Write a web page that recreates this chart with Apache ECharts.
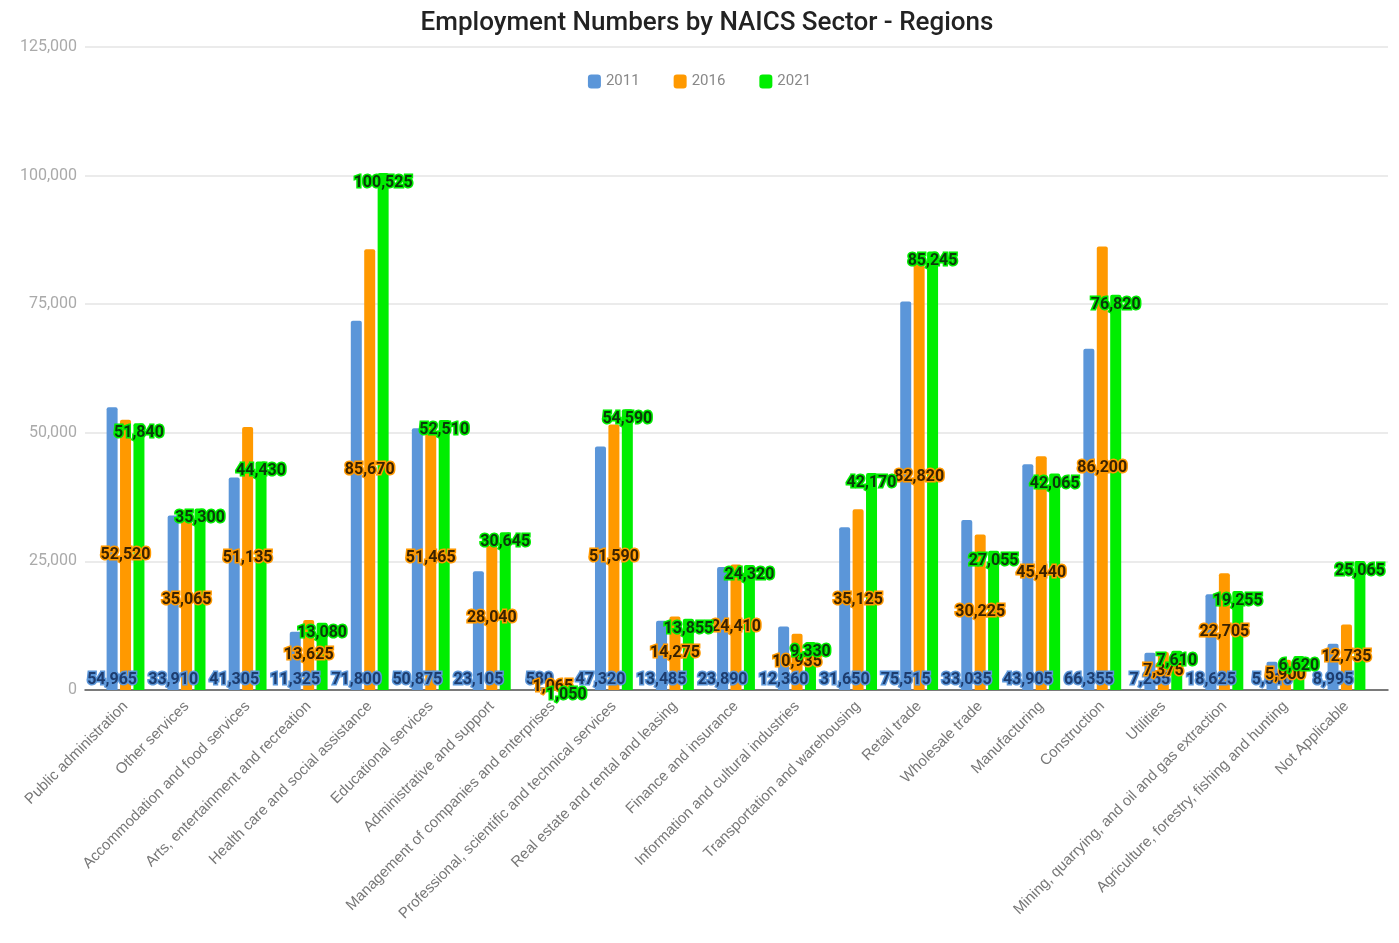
<!DOCTYPE html>
<html>
<head>
<meta charset="utf-8">
<script src="https://cdn.jsdelivr.net/npm/echarts@6/dist/echarts.min.js"></script>
<style>html,body{margin:0;padding:0;background:#fff}#c{width:1399px;height:943px}</style>
</head>
<body>
<div id="c"></div>
<script>
const categories = [
  "Public administration", "Other services", "Accommodation and food services",
  "Arts, entertainment and recreation", "Health care and social assistance",
  "Educational services", "Administrative and support",
  "Management of companies and enterprises", "Professional, scientific and technical services",
  "Real estate and rental and leasing", "Finance and insurance",
  "Information and cultural industries", "Transportation and warehousing",
  "Retail trade", "Wholesale trade", "Manufacturing", "Construction", "Utilities",
  "Mining, quarrying, and oil and gas extraction",
  "Agriculture, forestry, fishing and hunting", "Not Applicable"
];
const seriesNames = ["2011", "2016", "2021"];
const values2011 = [54965, 33910, 41305, 11325, 71800, 50875, 23105, 580, 47320, 13485, 23890, 12360, 31650, 75515, 33035, 43905, 66355, 7255, 18625, 5510, 8995];
const values2016 = [52520, 35065, 51135, 13625, 85670, 51465, 28040, 1065, 51590, 14275, 24410, 10935, 35125, 82820, 30225, 45440, 86200, 7375, 22705, 5900, 12735];
const values2021 = [51840, 35300, 44430, 13080, 100525, 52510, 30645, 1050, 54590, 13855, 24320, 9330, 42170, 85245, 27055, 42065, 76820, 7610, 19255, 6620, 25065];
const yTicks = [0, 25000, 50000, 75000, 100000, 125000];

const colors = ["#5b96d9", "#ff9900", "#00ee00"];
const labelText = ["#1d3c6e", "#3a2200", "#0a3a0a"];
const labelPos = ["insideBottom", "inside", "insideTop"];
const fmt = v => Number(v).toLocaleString("en-US");

const chart = echarts.init(document.getElementById("c"), null, {renderer: "canvas"});
const data = [values2011, values2016, values2021];

const option = {
  animation: false,
  backgroundColor: "#fff",
  color: colors,
  title: {
    text: "Employment Numbers by NAICS Sector - Regions",
    left: 702, textAlign: "center", top: 5,
    textStyle: {fontFamily: "Roboto", fontSize: 26, fontWeight: 500, color: "#222"}
  },
  legend: {
    data: seriesNames, left: "center", top: 69,
    icon: "roundRect", itemWidth: 13, itemHeight: 14, itemGap: 34,
    textStyle: {fontFamily: "Roboto", fontSize: 15, color: "#888"}
  },
  grid: [
    {left: 85, right: 11, top: 47, bottom: 253},
    {left: 95, right: 22, top: 47, bottom: 253}
  ],
  xAxis: [
    {gridIndex: 0, type: "value", min: 0, max: 1, show: true,
     axisLine: {show: true, onZero: false, lineStyle: {color: "#555", width: 1.5}},
     axisTick: {show: false}, axisLabel: {show: false}, splitLine: {show: false}},
    {gridIndex: 1, type: "category", data: categories,
     axisLine: {show: false}, axisTick: {show: false},
     axisLabel: {rotate: 45, interval: 0, margin: 14, fontFamily: "Liberation Sans", fontSize: 15, color: "#777"}}
  ],
  yAxis: [
    {gridIndex: 0, type: "value", min: yTicks[0], max: yTicks[yTicks.length - 1], interval: yTicks[1] - yTicks[0],
     axisLine: {show: false}, axisTick: {show: false},
     axisLabel: {formatter: v => fmt(v), fontFamily: "Roboto", fontSize: 16, color: "#aaa", margin: 8},
     splitLine: {lineStyle: {color: "#e4e4e4", width: 1.5}}},
    {gridIndex: 1, type: "value", min: yTicks[0], max: yTicks[yTicks.length - 1], show: false,
     splitLine: {show: false}}
  ],
  series: seriesNames.map((name, i) => ({
    name, type: "bar", xAxisIndex: 1, yAxisIndex: 1,
    data: data[i], barWidth: 11, barGap: "22%",
    itemStyle: {color: colors[i], borderRadius: [2, 2, 0, 0]},
    label: {
      show: true, position: labelPos[i], distance: 2,
      formatter: p => fmt(p.value),
      fontFamily: "Roboto", fontSize: 16, fontWeight: "bold",
      color: labelText[i], textBorderColor: colors[i], textBorderWidth: 3
    },
    labelLayout: {hideOverlap: false},
    z: 2
  }))
};
chart.setOption(option);
</script>
</body>
</html>
